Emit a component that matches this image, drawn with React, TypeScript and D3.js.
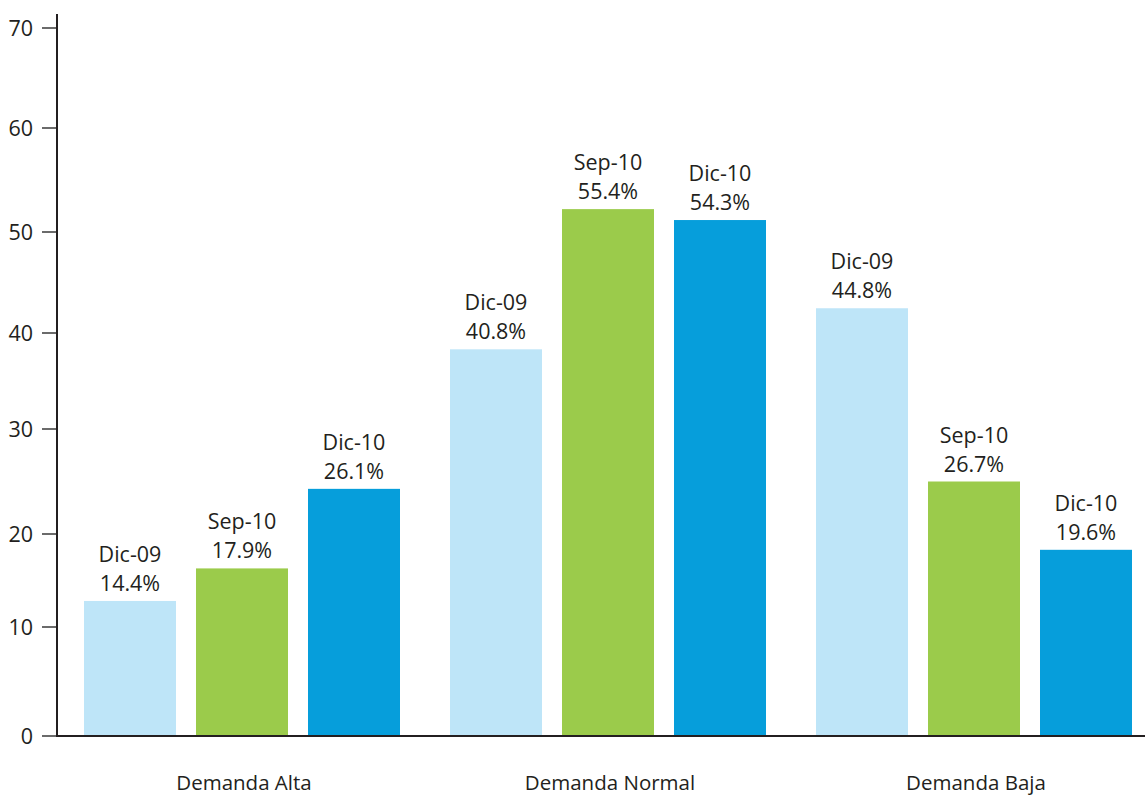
import React from "react";
import * as d3 from "d3";

const categories = ["Demanda Alta", "Demanda Normal", "Demanda Baja"];
const series = ["Dic-09", "Sep-10", "Dic-10"];
const seriesLabels = [
  ["Dic-09", "Sep-10", "Dic-10"],
  ["Dic-09", "Sep-10", "Dic-10"],
  ["Dic-09", "Sep-10", "Dic-10"],
];
// bar heights as drawn
const valuesAlta = [12.8, 16.3, 24.3];
const valuesNormal = [38.3, 52.2, 51.15];
const valuesBaja = [42.45, 25.0, 18.3];
// value labels as printed
const labelsAlta = ["14.4%", "17.9%", "26.1%"];
const labelsNormal = ["40.8%", "55.4%", "54.3%"];
const labelsBaja = ["44.8%", "26.7%", "19.6%"];
const yTicks = [0, 10, 20, 30, 40, 50, 60, 70];
const colors = ["#bee5f8", "#9bcb4b", "#069edb"];

const values = [valuesAlta, valuesNormal, valuesBaja];
const labels = [labelsAlta, labelsNormal, labelsBaja];

export default function App() {
  const W = 1145;
  const H = 795;
  const axisX = 57;
  // the printed axis has slightly uneven tick spacing; map each tick to its drawn position
  const y = d3
    .scaleLinear()
    .domain(yTicks)
    .range([736, 627, 534, 429, 333, 232, 128, 28]);
  const x0 = d3.scaleBand<string>().domain(categories).range([84, 1132]).paddingInner(50 / 366).paddingOuter(0);
  const x1 = d3.scaleBand<string>().domain(series).range([0, x0.bandwidth()]).paddingInner(20 / 112).paddingOuter(0);
  const font = "'Open Sans', sans-serif";
  const textColor = "#231f20";

  return (
    <svg width={W} height={H} style={{ position: "absolute", left: 0, top: 0, background: "#fff" }} fontFamily={font}>
      {categories.map((c, ci) => (
        <g key={c} transform={`translate(${x0(c)},0)`}>
          {series.map((s, si) => {
            const v = values[ci][si];
            const bx = x1(s)!;
            const top = y(v);
            const cx = bx + x1.bandwidth() / 2;
            return (
              <g key={s}>
                <rect x={bx} y={top} width={x1.bandwidth()} height={y(0) - top} fill={colors[si]} />
                <text x={cx} y={top - 39} textAnchor="middle" fontSize={21.5} fill={textColor}>
                  {seriesLabels[ci][si]}
                </text>
                <text x={cx} y={top - 10} textAnchor="middle" fontSize={21.5} fill={textColor}>
                  {labels[ci][si]}
                </text>
              </g>
            );
          })}
          <text x={x0.bandwidth() / 2 + 2} y={790} textAnchor="middle" fontSize={20.5} fill={textColor}>
            {c}
          </text>
        </g>
      ))}
      {yTicks.map((t) => (
        <g key={t}>
          <line x1={42} x2={axisX} y1={y(t)} y2={y(t)} stroke="#3a3a3a" strokeWidth={1.5} />
          <text x={33} y={y(t)} dy="0.36em" textAnchor="end" fontSize={21.5} fill={textColor}>
            {t}
          </text>
        </g>
      ))}
      <line x1={axisX} x2={axisX} y1={14} y2={y(0) + 1} stroke="#231f20" strokeWidth={2} />
      <line x1={axisX} x2={W} y1={y(0)} y2={y(0)} stroke="#231f20" strokeWidth={2} />
    </svg>
  );
}
